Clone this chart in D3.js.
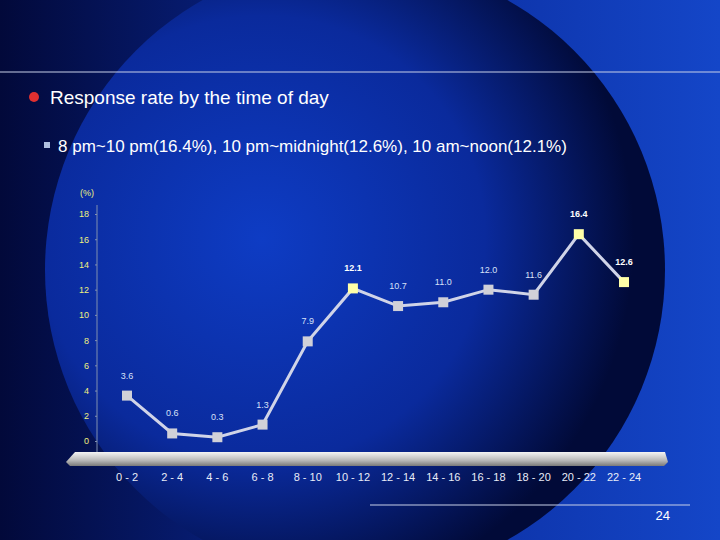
<!DOCTYPE html>
<html><head><meta charset="utf-8">
<script src="https://cdn.jsdelivr.net/npm/d3@7"></script>
<style>body{margin:0;background:#000}text{font-family:Arial,"Liberation Sans",sans-serif}</style>
</head><body><div id="chart"></div>
<script>
// chart data
var categories = ["0 - 2","2 - 4","4 - 6","6 - 8","8 - 10","10 - 12","12 - 14","14 - 16","16 - 18","18 - 20","20 - 22","22 - 24"];
var values = [3.6,0.6,0.3,1.3,7.9,12.1,10.7,11.0,12.0,11.6,16.4,12.6];
var highlight = ["10 - 12","20 - 22","22 - 24"];
var yTicks = [0,2,4,6,8,10,12,14,16,18];

var svgWidth = 720, svgHeight = 540;
var svg = d3.select("#chart").append("svg").attr("width", svgWidth).attr("height", svgHeight);
var defs = svg.append("defs");

// background gradients
var bg = defs.append("linearGradient").attr("id","bg").attr("x1",0).attr("x2",1).attr("y1",0).attr("y2",0);
bg.append("stop").attr("offset",0).attr("stop-color","#02093a");
bg.append("stop").attr("offset",0.5).attr("stop-color","#0a2a9a");
bg.append("stop").attr("offset",1).attr("stop-color","#1446c8");
var disc = defs.append("radialGradient").attr("id","disc").attr("cx",0.35).attr("cy",0.45).attr("r",0.6);
disc.append("stop").attr("offset",0).attr("stop-color","#0e3cc4");
disc.append("stop").attr("offset",0.6).attr("stop-color","#0a2a9c");
disc.append("stop").attr("offset",1).attr("stop-color","#010a38");
var plat = defs.append("linearGradient").attr("id","plat").attr("x1",0).attr("x2",0).attr("y1",0).attr("y2",1);
plat.append("stop").attr("offset",0).attr("stop-color","#f4f4f4");
plat.append("stop").attr("offset",0.6).attr("stop-color","#b8b8b8");
plat.append("stop").attr("offset",1).attr("stop-color","#7a7a7a");

svg.append("rect").attr("width",svgWidth).attr("height",svgHeight).attr("fill","url(#bg)");
svg.append("circle").attr("cx",355).attr("cy",270).attr("r",310).attr("fill","url(#disc)");

// header
svg.append("line").attr("x1",0).attr("x2",720).attr("y1",72).attr("y2",72).attr("stroke","#c8d0e8").attr("stroke-width",1);
svg.append("circle").attr("cx",34).attr("cy",97).attr("r",5).attr("fill","#e03030");
svg.append("text").attr("x",50).attr("y",104).attr("fill","#fff").attr("font-size",19).text("Response rate by the time of day");
svg.append("rect").attr("x",44).attr("y",142).attr("width",6).attr("height",6).attr("fill","#b0c0e0");
svg.append("text").attr("x",58).attr("y",152).attr("fill","#fff").attr("font-size",17)
  .text("8 pm~10 pm(16.4%), 10 pm~midnight(12.6%), 10 am~noon(12.1%)");

// scales
var xScale = d3.scalePoint().domain(categories).range([127, 624]);
var yScale = d3.scaleLinear().domain([0, 18]).range([441, 214]);

// platform
svg.append("path").attr("d","M75,452 L665,452 L668,462 L664,466 L70,466 L66,462 Z").attr("fill","url(#plat)");

// y axis
var yAxisGroup = svg.append("g").attr("transform","translate(97,0)")
  .call(d3.axisLeft(yScale).tickValues(yTicks).tickSize(2).tickPadding(6));
yAxisGroup.select(".domain").attr("d","M0,205 L0,452").attr("stroke","#8090b0");
yAxisGroup.selectAll(".tick line").attr("stroke","#8090b0");
yAxisGroup.selectAll("text").attr("fill","#f0f080").attr("font-size",9).attr("text-anchor","end");
svg.append("text").attr("x",80).attr("y",196).attr("fill","#f0f080").attr("font-size",9).text("(%)");

// x labels
svg.append("g").selectAll("text").data(categories).enter().append("text")
  .attr("x", d => xScale(d)).attr("y",481).attr("text-anchor","middle")
  .attr("fill","#e8ecf8").attr("font-size",11).text(d => d);

// line
var line = d3.line().x((d,i) => xScale(categories[i])).y(d => yScale(d));
svg.append("path").datum(values).attr("d",line).attr("fill","none")
  .attr("stroke","#d0d4e8").attr("stroke-width",3);

var pts = svg.append("g").selectAll("g").data(values).enter().append("g");
pts.append("rect")
  .attr("x",(d,i) => xScale(categories[i]) - 5).attr("y", d => yScale(d) - 5)
  .attr("width",10).attr("height",10)
  .attr("fill",(d,i) => highlight.indexOf(categories[i]) >= 0 ? "#ffffa8" : "#d0d0d8");
pts.append("text")
  .attr("x",(d,i) => xScale(categories[i])).attr("y", d => yScale(d) - 17)
  .attr("text-anchor","middle").attr("font-size",9)
  .attr("fill",(d,i) => highlight.indexOf(categories[i]) >= 0 ? "#ffffff" : "#d8e0f8")
  .attr("font-weight",(d,i) => highlight.indexOf(categories[i]) >= 0 ? "bold" : "normal")
  .text(d => d.toFixed(1));

// footer
svg.append("line").attr("x1",370).attr("x2",690).attr("y1",505).attr("y2",505).attr("stroke","#c8d0e8");
svg.append("text").attr("x",670).attr("y",520).attr("text-anchor","end").attr("fill","#fff").attr("font-size",13).text("24");
</script></body></html>
